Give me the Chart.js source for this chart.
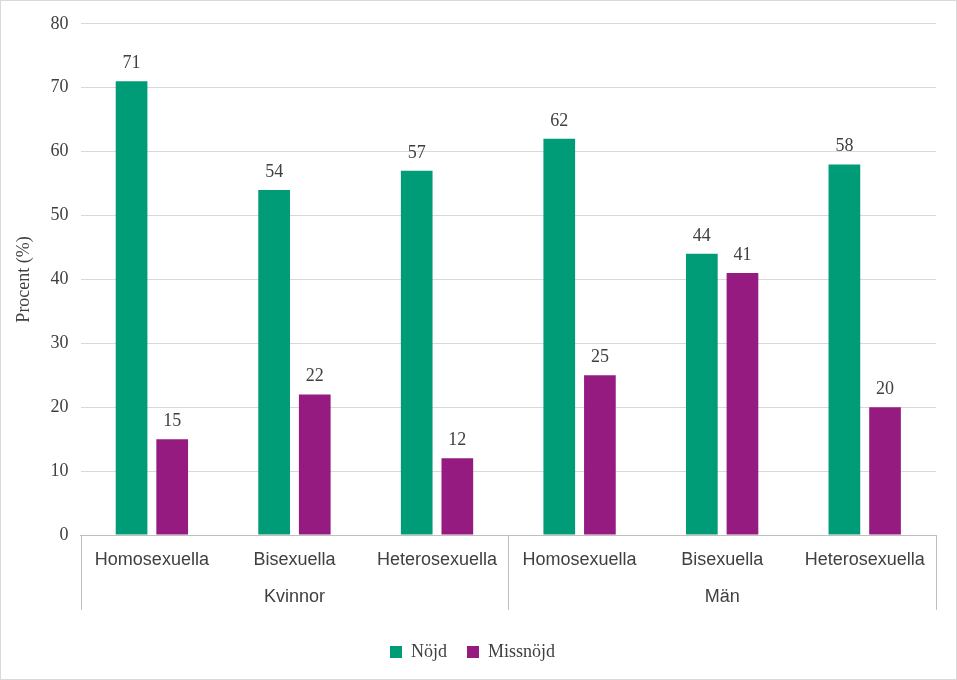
<!DOCTYPE html>
<html><head><meta charset="utf-8">
<script src="https://cdn.jsdelivr.net/npm/chart.js@4"></script>
<style>
html,body{margin:0;padding:0;background:#fff}
#wrap{position:absolute;left:0;top:0;width:955px;height:678px;border:1px solid #d9d9d9}
</style></head><body>
<div id="wrap"><canvas id="c" width="955" height="678"></canvas></div>
<script>
var categories = ['Homosexuella','Bisexuella','Heterosexuella','Homosexuella','Bisexuella','Heterosexuella']
var groups = ['Kvinnor','Män']
var nojd = [71, 54, 57, 62, 44, 58]
var missnojd = [15, 22, 12, 25, 41, 20]

var serif = "'Liberation Serif', 'Times New Roman', serif"
var sans = "'Liberation Sans', Arial, sans-serif"

var valueLabels = {
  id: 'valueLabels',
  afterDatasetsDraw: function(chart){
    var ctx = chart.ctx
    ctx.save()
    ctx.font = '18px ' + serif
    ctx.fillStyle = '#404040'
    ctx.textAlign = 'center'
    ctx.textBaseline = 'bottom'
    chart.data.datasets.forEach(function(ds, i){
      chart.getDatasetMeta(i).data.forEach(function(bar, j){
        ctx.fillText(ds.data[j], bar.x, bar.y - 9)
      })
    })
    ctx.restore()
  }
}

var groupAxis = {
  id: 'groupAxis',
  afterDraw: function(chart){
    var ctx = chart.ctx, x = chart.scales.x, a = chart.chartArea
    ctx.save()
    ctx.strokeStyle = '#bfbfbf'
    ctx.lineWidth = 1
    var left = a.left, right = a.right, mid = (left + right) / 2
    ;[left, mid, right].forEach(function(px){
      ctx.beginPath(); ctx.moveTo(Math.round(px)+0.5, a.bottom); ctx.lineTo(Math.round(px)+0.5, a.bottom + 75); ctx.stroke()
    })
    ctx.font = '18px ' + sans
    ctx.fillStyle = '#404040'
    ctx.textAlign = 'center'
    ctx.textBaseline = 'middle'
    ctx.fillText(groups[0], (left + mid) / 2, a.bottom + 62)
    ctx.fillText(groups[1], (mid + right) / 2, a.bottom + 62)
    ctx.restore()
  }
}

new Chart(document.getElementById('c'), {
  type: 'bar',
  data: {
    labels: categories,
    datasets: [
      { label: 'Nöjd', data: nojd, backgroundColor: '#009B77' },
      { label: 'Missnöjd', data: missnojd, backgroundColor: '#951B81' }
    ]
  },
  options: {
    responsive: false,
    animation: false,
    layout: { padding: { top: 14, right: 20, left: 8, bottom: 8 } },
    datasets: { bar: { categoryPercentage: 0.57, barPercentage: 0.78 } },
    plugins: {
      legend: {
        position: 'bottom',
        labels: { font: { family: serif, size: 18 }, color: '#404040', boxWidth: 12, boxHeight: 12, padding: 20 }
      },
      tooltip: { enabled: false }
    },
    scales: {
      x: {
        grid: { display: false },
        border: { color: '#bfbfbf' },
        ticks: { font: { family: sans, size: 18 }, color: '#404040', maxRotation: 0, autoSkip: false, padding: 6 },
        afterFit: function(s){ s.height = 88 }
      },
      y: {
        min: 0, max: 80,
        ticks: { stepSize: 10, font: { family: serif, size: 18 }, color: '#404040', padding: 12 },
        grid: { color: '#d9d9d9', drawTicks: false },
        border: { display: false },
        title: { display: true, text: 'Procent (%)', font: { family: serif, size: 18 }, color: '#404040' }
      }
    }
  },
  plugins: [valueLabels, groupAxis]
})
</script>
</body></html>
